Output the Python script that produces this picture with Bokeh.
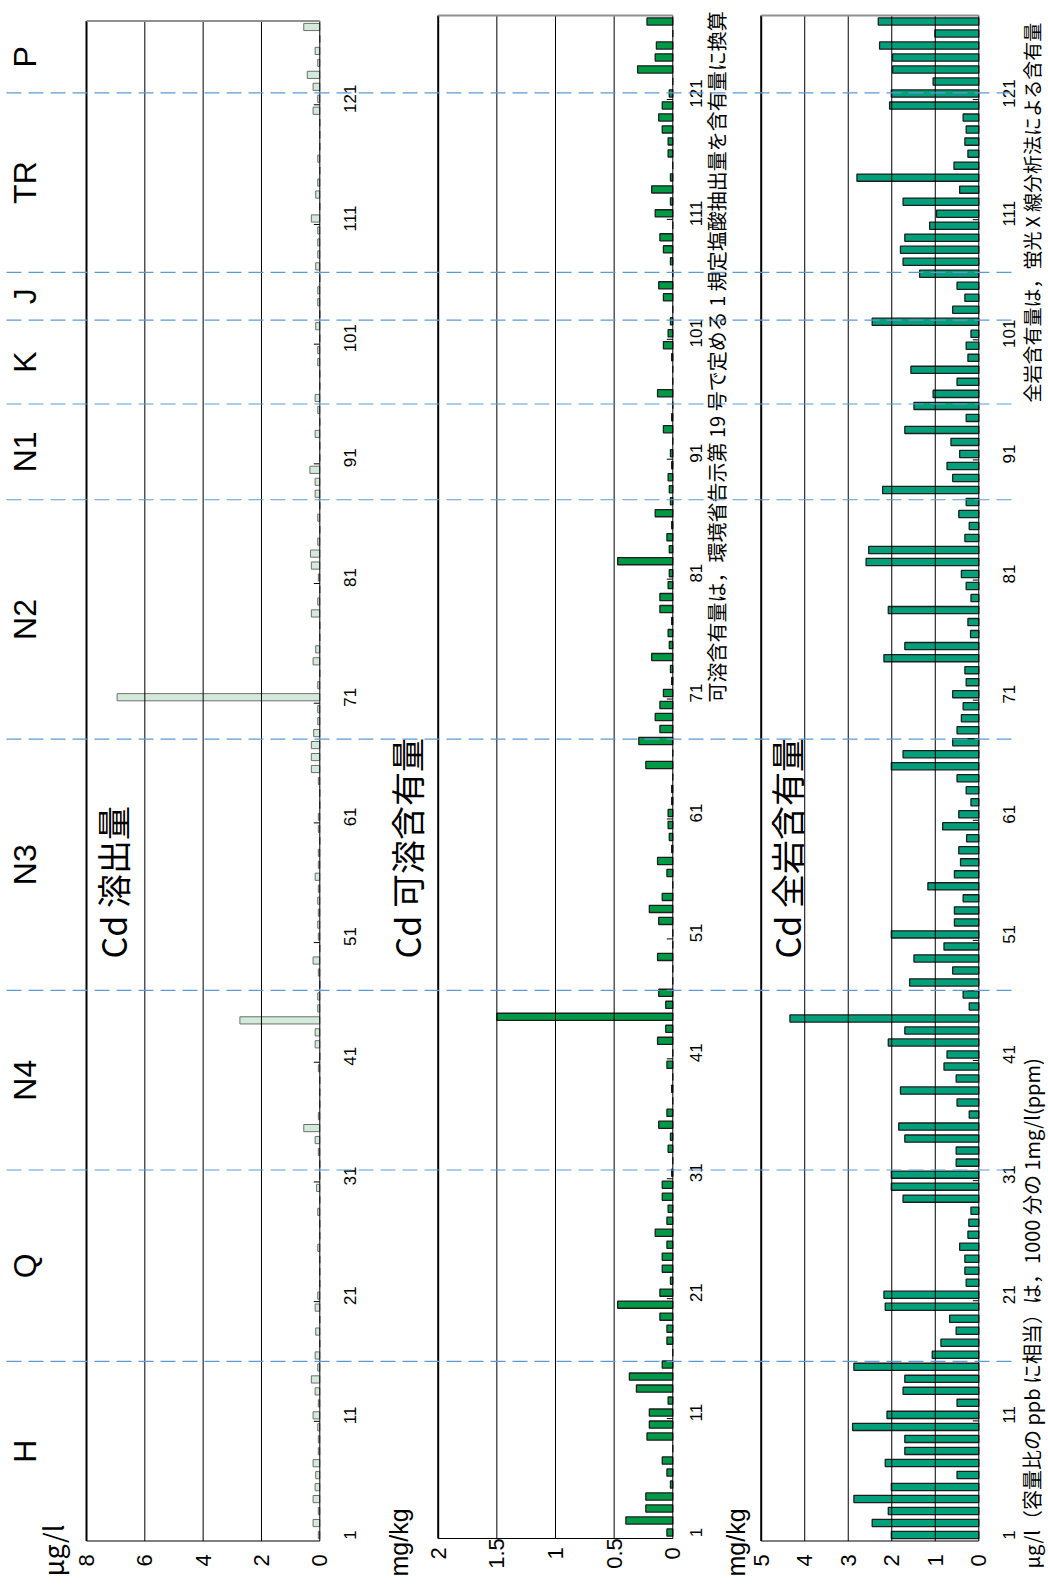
import numpy as np
from bokeh.plotting import figure
from bokeh.models import Range1d
from bokeh.core.properties import value
from bokeh.embed import file_html
from bokeh.resources import INLINE

PAGE_W, PAGE_H = 1048, 1596

# sample numbers (vertical category axis)
samples = list(range(1, 128))
sample_ticks = [1, 11, 21, 31, 41, 51, 61, 71, 81, 91, 101, 111, 121]

# geological units: first and last sample of each
group_names = ["H", "Q", "N4", "N3", "N2", "N1", "K", "J", "TR", "P"]
group_first = [1, 16, 32, 47, 68, 88, 96, 103, 107, 122]
group_last = [15, 31, 46, 67, 87, 95, 102, 106, 121, 127]

# Cd leaching (ug/l)
leach_ug_l = [
    0.05, 0.23, 0.05, 0.23, 0.16, 0.14, 0.23, 0.05, 0.05, 0.07,
    0.23, 0.05, 0.16, 0.29, 0.07, 0.16, 0.00, 0.14, 0.00, 0.16,
    0.07, 0.00, 0.00, 0.00, 0.07, 0.00, 0.00, 0.07, 0.00, 0.11,
    0.00, 0.00, 0.05, 0.16, 0.55, 0.05, 0.00, 0.00, 0.00, 0.05,
    0.00, 0.16, 0.16, 2.74, 0.07, 0.07, 0.00, 0.05, 0.23, 0.00,
    0.05, 0.07, 0.05, 0.07, 0.05, 0.16, 0.05, 0.05, 0.00, 0.05,
    0.05, 0.00, 0.00, 0.05, 0.29, 0.29, 0.29, 0.21, 0.07, 0.07,
    6.95, 0.07, 0.00, 0.23, 0.14, 0.00, 0.00, 0.29, 0.07, 0.00,
    0.05, 0.29, 0.32, 0.07, 0.00, 0.07, 0.00, 0.16, 0.16, 0.34,
    0.00, 0.00, 0.16, 0.00, 0.07, 0.16, 0.00, 0.00, 0.07, 0.07,
    0.00, 0.14, 0.00, 0.07, 0.07, 0.00, 0.14, 0.07, 0.07, 0.07,
    0.29, 0.00, 0.14, 0.07, 0.00, 0.07, 0.00, 0.00, 0.00, 0.23,
    0.07, 0.23, 0.43, 0.07, 0.16, 0.00, 0.55,
]

# Cd soluble content (mg/kg)
soluble_mg_kg = [
    0.05, 0.40, 0.23, 0.23, 0.02, 0.05, 0.09, 0.00, 0.22, 0.20,
    0.20, 0.04, 0.31, 0.37, 0.09, 0.00, 0.05, 0.05, 0.11, 0.47,
    0.11, 0.02, 0.09, 0.09, 0.05, 0.15, 0.05, 0.04, 0.09, 0.09,
    0.01, 0.00, 0.04, 0.02, 0.12, 0.05, 0.00, 0.01, 0.00, 0.05,
    0.00, 0.13, 0.06, 1.50, 0.06, 0.12, 0.00, 0.00, 0.13, 0.00,
    0.00, 0.12, 0.20, 0.09, 0.00, 0.05, 0.13, 0.01, 0.03, 0.04,
    0.04, 0.01, 0.01, 0.00, 0.23, 0.00, 0.29, 0.11, 0.15, 0.11,
    0.08, 0.01, 0.02, 0.18, 0.03, 0.04, 0.01, 0.11, 0.11, 0.04,
    0.03, 0.47, 0.03, 0.05, 0.01, 0.15, 0.02, 0.03, 0.04, 0.01,
    0.02, 0.00, 0.08, 0.01, 0.00, 0.13, 0.00, 0.00, 0.01, 0.08,
    0.04, 0.02, 0.00, 0.08, 0.12, 0.00, 0.02, 0.08, 0.11, 0.00,
    0.15, 0.02, 0.18, 0.02, 0.00, 0.04, 0.04, 0.09, 0.12, 0.09,
    0.03, 0.00, 0.30, 0.15, 0.14, 0.00, 0.22,
]

# Cd total rock content (mg/kg)
total_mg_kg = [
    2.01, 2.45, 2.08, 2.87, 2.01, 0.50, 2.15, 1.70, 1.70, 2.90,
    2.11, 0.50, 1.74, 1.70, 2.87, 1.07, 0.87, 0.52, 0.67, 2.15,
    2.18, 0.29, 0.32, 0.32, 0.44, 0.25, 0.23, 0.18, 1.74, 2.01,
    2.01, 0.52, 0.52, 1.70, 1.84, 0.22, 0.50, 1.80, 0.52, 0.80,
    0.73, 2.08, 1.70, 4.34, 0.22, 0.36, 1.59, 0.60, 1.49, 0.80,
    2.01, 0.56, 0.56, 0.36, 1.17, 0.56, 0.42, 0.46, 0.28, 0.83,
    0.46, 0.18, 0.29, 0.50, 2.01, 1.74, 0.60, 0.50, 0.40, 0.36,
    0.60, 0.29, 0.32, 2.18, 1.70, 0.19, 0.25, 2.08, 0.18, 0.29,
    0.40, 2.59, 2.53, 0.32, 0.22, 0.46, 0.29, 2.21, 0.60, 0.73,
    0.44, 0.64, 1.70, 0.29, 1.49, 1.05, 0.50, 1.56, 0.25, 0.29,
    0.18, 2.45, 0.60, 0.32, 0.50, 1.36, 1.74, 1.80, 1.70, 1.13,
    0.97, 1.74, 0.44, 2.80, 0.57, 0.25, 0.32, 0.29, 0.36, 2.05,
    2.01, 1.05, 1.98, 1.98, 2.28, 1.01, 2.31,
]

leach_ticks = [0, 2, 4, 6, 8]
leach_tick_labels = ["0", "2", "4", "6", "8"]
soluble_ticks = [0, 0.5, 1, 1.5, 2]
soluble_tick_labels = ["0", "0.5", "1", "1.5", "2"]
total_ticks = [0, 1, 2, 3, 4, 5]
total_tick_labels = ["0", "1", "2", "3", "4", "5"]

titles = ["Cd 溶出量", "Cd 可溶含有量", "Cd 全岩含有量"]
units = ["μg/l", "mg/kg", "mg/kg"]
notes = [
    "可溶含有量は，環境省告示第 19 号で定める 1 規定塩酸抽出量を含有量に換算",
    "全岩含有量は，蛍光 X 線分析法による含有量",
    "μg/l（容量比の ppb に相当）は，1000 分の 1mg/l(ppm)",
]

JP = value("Noto Sans CJK JP")
LAT = value("Liberation Sans")
UP = np.pi / 2  # text reading bottom-to-top

# page-level canvas; each panel gets its own value range and sample range
p = figure(width=PAGE_W, height=PAGE_H,
           x_range=Range1d(0, PAGE_W), y_range=Range1d(PAGE_H, 0),
           output_backend="svg", toolbar_location=None, min_border=0,
           x_axis_location=None, y_axis_location=None, title_location=None,
           outline_line_color=None, background_fill_color="white")
p.grid.visible = False

panels = [
    dict(key="leach", vals=leach_ug_l, ticks=leach_ticks, labels=leach_tick_labels,
         x_zero=319.3, x_max=86.0, y_top=20.5, y_bot=1540.5,
         fill="#d3eadb", line="#6e6e6e", lw=1.0,
         title_x=112, unit_x=52, unit_font=JP, unit_size="27px",
         index_x=349.5, tick_label_y=1560),
    dict(key="soluble", vals=soluble_mg_kg, ticks=soluble_ticks, labels=soluble_tick_labels,
         x_zero=672.3, x_max=437.7, y_top=15.0, y_bot=1538.0,
         fill="#009a46", line="#1e1e1e", lw=1.3,
         title_x=406, unit_x=398, unit_font=LAT, unit_size="25px",
         index_x=695, tick_label_y=1553),
    dict(key="total", vals=total_mg_kg, ticks=total_ticks, labels=total_tick_labels,
         x_zero=978.3, x_max=760.7, y_top=15.0, y_bot=1540.5,
         fill="#00a07a", line="#1e1e1e", lw=1.3,
         title_x=786, unit_x=735, unit_font=LAT, unit_size="25px",
         index_x=1008, tick_label_y=1560),
]

xr, yr = {}, {}
for pn in panels:
    vmax = pn["ticks"][-1]
    kx = (pn["x_zero"] - pn["x_max"]) / vmax
    pn["kx"] = kx
    xr[pn["key"]] = Range1d(start=pn["x_zero"] / kx, end=(pn["x_zero"] - PAGE_W) / kx)
    ky = (pn["y_bot"] - pn["y_top"]) / 127
    yr[pn["key"]] = Range1d(start=0.5 - (PAGE_H - pn["y_bot"]) / ky,
                            end=127.5 + pn["y_top"] / ky)
p.extra_x_ranges = xr
p.extra_y_ranges = yr

lo, hi = samples[0] - 0.5, samples[-1] + 0.5
for i, pn in enumerate(panels):
    k = pn["key"]
    vmax = pn["ticks"][-1]
    inner = pn["ticks"][1:-1]
    tick_len = 6 / pn["kx"]

    # bars
    p.hbar(y=samples, left=0, right=pn["vals"], height=0.6,
           fill_color=pn["fill"], line_color=pn["line"], line_width=pn["lw"],
           x_range_name=k, y_range_name=k)

    # value grid lines (drawn over the bars)
    p.segment(x0=inner, y0=lo, x1=inner, y1=hi, line_color="black", line_width=1,
              x_range_name=k, y_range_name=k)
    # frame: zero line, bottom, left (thick), top (grey)
    p.segment(x0=[0, 0], y0=[lo, lo], x1=[0, vmax], y1=[hi, lo],
              line_color="black", line_width=1, x_range_name=k, y_range_name=k)
    p.segment(x0=[vmax], y0=[lo], x1=[vmax], y1=[hi], line_color="black", line_width=2,
              x_range_name=k, y_range_name=k)
    p.segment(x0=[0], y0=[hi], x1=[vmax], y1=[hi], line_color="#8e9092", line_width=2,
              x_range_name=k, y_range_name=k)
    # category tick marks between samples
    tm = [t - 0.5 for t in sample_ticks[1:]]
    p.segment(x0=[0] * len(tm), y0=tm, x1=[tick_len] * len(tm), y1=tm,
              line_color="black", line_width=1, x_range_name=k, y_range_name=k)

    # value tick labels
    p.text(x=pn["ticks"], y=[pn["tick_label_y"]] * len(pn["ticks"]), text=pn["labels"],
           angle=UP, text_align="center", text_baseline="middle",
           text_font=LAT, text_font_size="22px", text_color="black",
           x_range_name=k)
    # sample number labels
    p.text(x=[pn["index_x"]] * len(sample_ticks), y=sample_ticks,
           text=[str(t) for t in sample_ticks], angle=UP,
           text_align="center", text_baseline="middle",
           text_font=LAT, text_font_size="17px", text_color="black",
           y_range_name=k)
    # panel title
    p.text(x=[pn["title_x"]], y=[958], text=[titles[i]], angle=UP,
           text_align="left", text_baseline="middle",
           text_font=JP, text_font_size="34px", text_color="black")
    # unit label
    p.text(x=[pn["unit_x"]], y=[1576], text=[units[i]], angle=UP,
           text_align="left", text_baseline="middle",
           text_font=pn["unit_font"], text_font_size=pn["unit_size"], text_color="black")

# unit group names
group_mid = [(a + b) / 2 for a, b in zip(group_first, group_last)]
p.text(x=[24] * len(group_names), y=group_mid, text=group_names, angle=UP,
       text_align="center", text_baseline="middle",
       text_font=LAT, text_font_size="32px", text_color="black",
       y_range_name="leach")

# footnotes
p.text(x=[716], y=[702], text=[notes[0]], angle=UP, text_align="left",
       text_baseline="middle", text_font=JP, text_font_size="20px", text_color="black")
p.text(x=[1031], y=[402], text=[notes[1]], angle=UP, text_align="left",
       text_baseline="middle", text_font=JP, text_font_size="19px", text_color="black")
p.text(x=[1031], y=[1568], text=[notes[2]], angle=UP, text_align="left",
       text_baseline="middle", text_font=JP, text_font_size="20px", text_color="black")

# dashed separators between units
bounds = [f - 0.5 for f in group_first[1:]]
p.segment(x0=[6] * len(bounds), y0=bounds, x1=[1018] * len(bounds), y1=bounds,
          line_color="#5b9bd5", line_width=1.2, line_dash="15 7",
          y_range_name="leach")

open("out.html", "w").write(file_html(p, INLINE))
